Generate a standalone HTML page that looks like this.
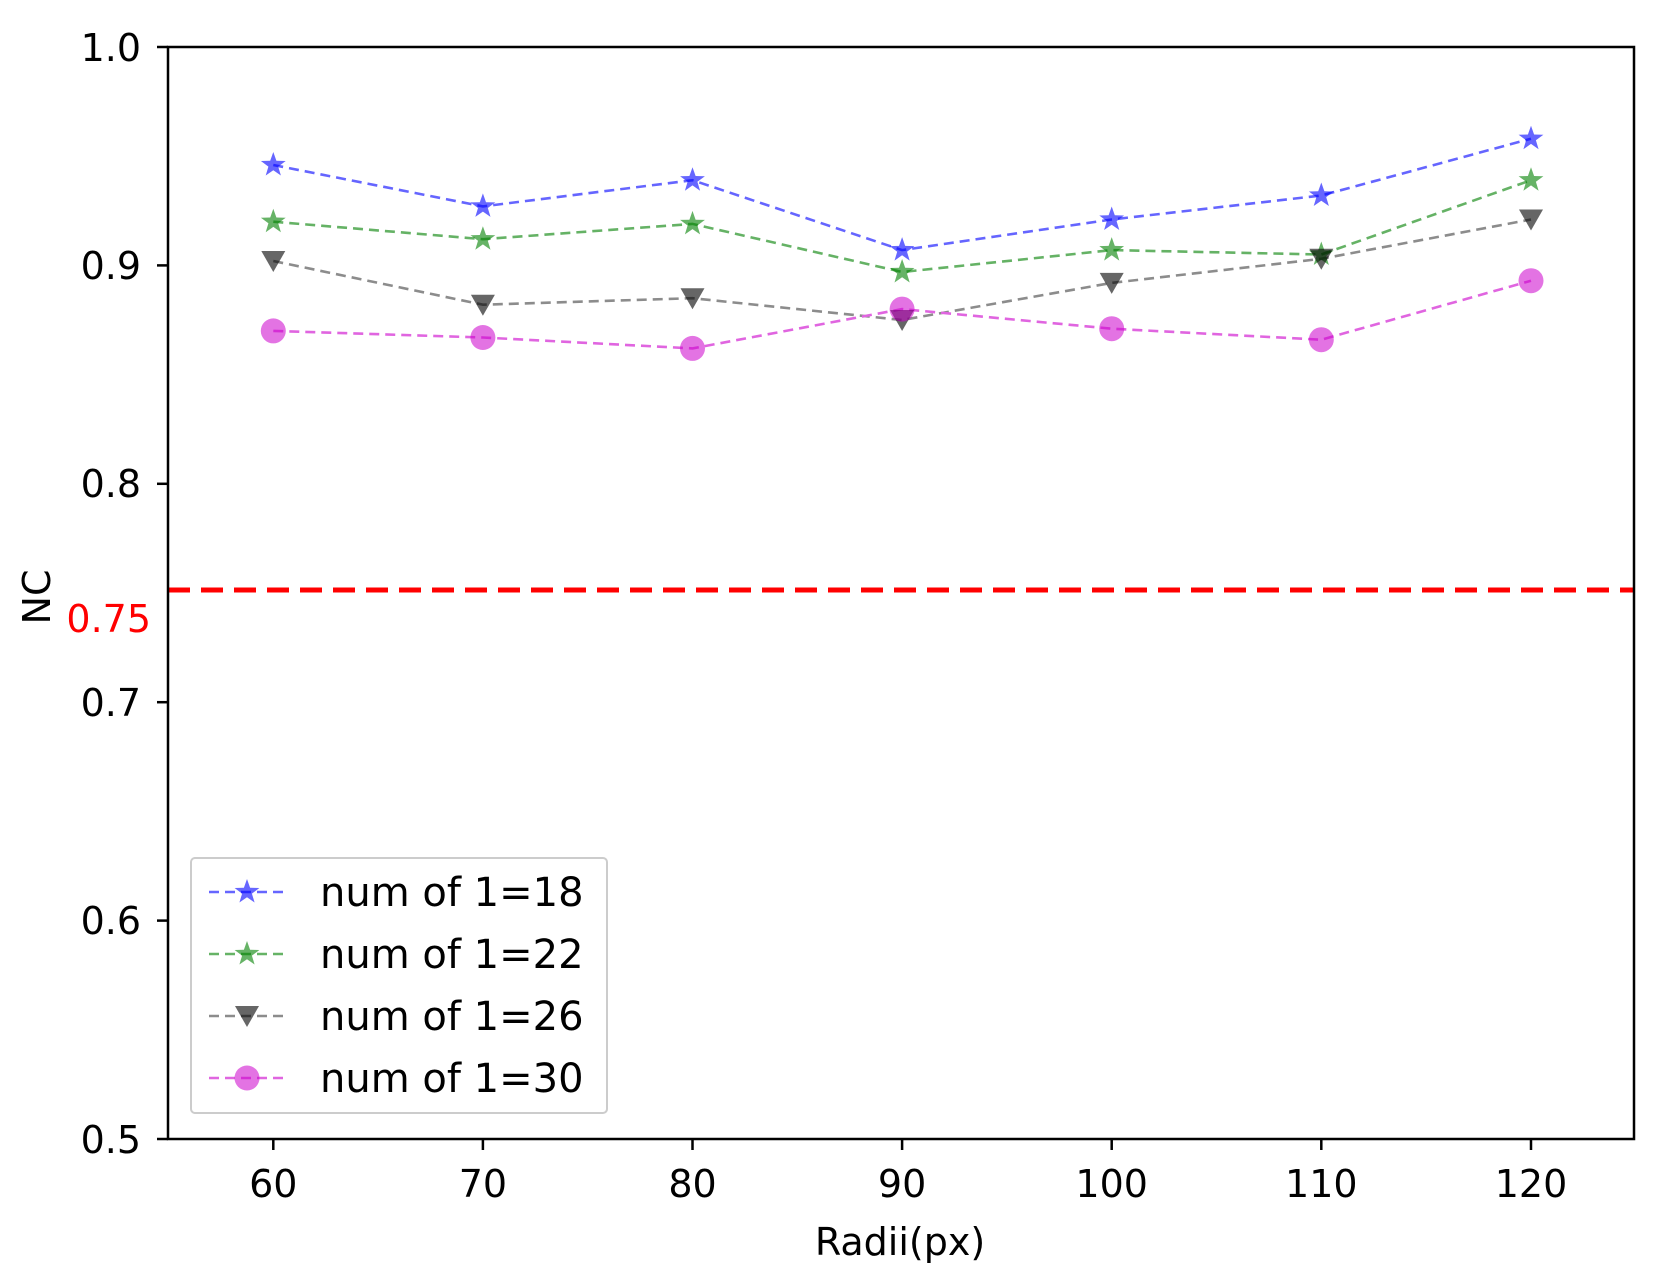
<!DOCTYPE html>
<html><head><meta charset="utf-8"><style>html,body{margin:0;padding:0;background:#fff}svg{display:block}</style></head>
<body>
<svg width="1660" height="1282" viewBox="0 0 1660 1282" xmlns="http://www.w3.org/2000/svg" font-family="'DejaVu Sans','Liberation Sans',sans-serif">
<defs>
<polygon id="star" points="0,-13 3.1,-4.2 12.4,-4 4.9,1.6 7.6,10.5 0,5.2 -7.6,10.5 -4.9,1.6 -12.4,-4 -3.1,-4.2"/>
<polygon id="tri" points="-12,-10 12,-10 0,11"/>
</defs>
<rect x="0" y="0" width="1660" height="1282" fill="#fff"/>
<line x1="168" y1="590" x2="1634" y2="590" stroke="#f00" stroke-width="5" stroke-dasharray="22,11"/>
<g fill="none" stroke-width="2.6" stroke-dasharray="10,6" opacity="0.6">
<polyline stroke="#0000ff" points="273.3,165 482.9,206.4 692.5,180.2 902.1,250.1 1111.7,219.5 1321.3,195.5 1531,138.7"/>
<polyline stroke="#008000" points="273.3,221.7 482.9,239.2 692.5,223.9 902.1,272 1111.7,250.1 1321.3,254.5 1531,180.2"/>
<polyline stroke="#404040" points="273.3,261 482.9,304.7 692.5,298.2 902.1,320 1111.7,282.9 1321.3,258.8 1531,219.5"/>
<polyline stroke="#cc00cc" points="273.3,330.9 482.9,337.5 692.5,348.4 902.1,309.1 1111.7,328.7 1321.3,339.7 1531,280.7"/>
</g>
<g fill="#0000ff" opacity="0.6">
<use href="#star" x="273.3" y="165"/><use href="#star" x="482.9" y="206.4"/><use href="#star" x="692.5" y="180.2"/><use href="#star" x="902.1" y="250.1"/><use href="#star" x="1111.7" y="219.5"/><use href="#star" x="1321.3" y="195.5"/><use href="#star" x="1531" y="138.7"/>
</g>
<g fill="#008000" opacity="0.6">
<use href="#star" x="273.3" y="221.7"/><use href="#star" x="482.9" y="239.2"/><use href="#star" x="692.5" y="223.9"/><use href="#star" x="902.1" y="272"/><use href="#star" x="1111.7" y="250.1"/><use href="#star" x="1321.3" y="254.5"/><use href="#star" x="1531" y="180.2"/>
</g>
<g fill="#000" opacity="0.6">
<use href="#tri" x="273.3" y="261"/><use href="#tri" x="482.9" y="304.7"/><use href="#tri" x="692.5" y="298.2"/><use href="#tri" x="902.1" y="320"/><use href="#tri" x="1111.7" y="282.9"/><use href="#tri" x="1321.3" y="258.8"/><use href="#tri" x="1531" y="219.5"/>
</g>
<g fill="#cc00cc" opacity="0.55">
<circle cx="273.3" cy="330.9" r="12.5"/><circle cx="482.9" cy="337.5" r="12.5"/><circle cx="692.5" cy="348.4" r="12.5"/><circle cx="902.1" cy="309.1" r="12.5"/><circle cx="1111.7" cy="328.7" r="12.5"/><circle cx="1321.3" cy="339.7" r="12.5"/><circle cx="1531" cy="280.7" r="12.5"/>
</g>
<rect x="168" y="47" width="1466" height="1092" fill="none" stroke="#000" stroke-width="2.5"/>
<g stroke="#000" stroke-width="2.5">
<line x1="157" y1="47" x2="168" y2="47"/><line x1="157" y1="265.4" x2="168" y2="265.4"/><line x1="157" y1="483.8" x2="168" y2="483.8"/><line x1="157" y1="702.2" x2="168" y2="702.2"/><line x1="157" y1="920.6" x2="168" y2="920.6"/><line x1="157" y1="1139" x2="168" y2="1139"/>
<line x1="273.3" y1="1139" x2="273.3" y2="1150"/><line x1="482.9" y1="1139" x2="482.9" y2="1150"/><line x1="692.5" y1="1139" x2="692.5" y2="1150"/><line x1="902.1" y1="1139" x2="902.1" y2="1150"/><line x1="1111.7" y1="1139" x2="1111.7" y2="1150"/><line x1="1321.3" y1="1139" x2="1321.3" y2="1150"/><line x1="1531" y1="1139" x2="1531" y2="1150"/>
</g>
<g font-size="38" fill="#000" text-anchor="end">
<text x="141" y="61">1.0</text><text x="141" y="279">0.9</text><text x="141" y="497">0.8</text><text x="141" y="716">0.7</text><text x="141" y="934">0.6</text><text x="141" y="1153">0.5</text>
</g>
<text x="151" y="632" font-size="38" fill="#f00" text-anchor="end">0.75</text>
<g font-size="38" fill="#000" text-anchor="middle">
<text x="273.3" y="1197">60</text><text x="482.9" y="1197">70</text><text x="692.5" y="1197">80</text><text x="902.1" y="1197">90</text><text x="1111.7" y="1197">100</text><text x="1321.3" y="1197">110</text><text x="1531" y="1197">120</text>
<text x="900" y="1255">Radii(px)</text>
</g>
<text transform="translate(50,597) rotate(-90)" font-size="38" text-anchor="middle" fill="#000">NC</text>
<rect x="191" y="858" width="416" height="255" rx="4" fill="#fff" fill-opacity="0.8" stroke="#ccc" stroke-width="2"/>
<g fill="none" stroke-width="2.6" stroke-dasharray="10,6" opacity="0.6">
<line x1="209" y1="892" x2="289" y2="892" stroke="#0000ff"/>
<line x1="209" y1="954" x2="289" y2="954" stroke="#008000"/>
<line x1="209" y1="1016" x2="289" y2="1016" stroke="#404040"/>
<line x1="209" y1="1078" x2="289" y2="1078" stroke="#cc00cc"/>
</g>
<use href="#star" x="247" y="892" fill="#0000ff" opacity="0.6"/>
<use href="#star" x="247" y="954" fill="#008000" opacity="0.6"/>
<use href="#tri" x="247" y="1016" fill="#000" opacity="0.6"/>
<circle cx="247" cy="1078" r="12.5" fill="#cc00cc" opacity="0.55"/>
<g font-size="40" fill="#000">
<text x="320" y="906">num of 1=18</text>
<text x="320" y="968">num of 1=22</text>
<text x="320" y="1030">num of 1=26</text>
<text x="320" y="1092">num of 1=30</text>
</g>
</svg>
</body></html>
